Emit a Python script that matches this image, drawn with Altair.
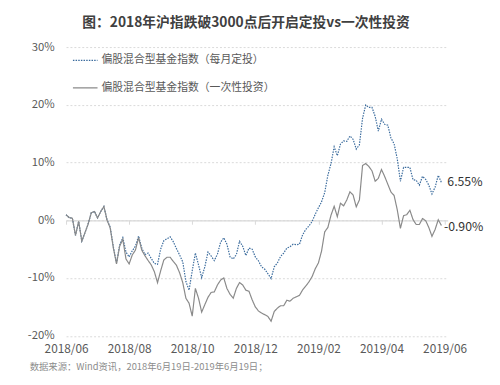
import altair as alt
import pandas as pd

title_text = "图：2018年沪指跌破3000点后开启定投vs一次性投资"
source_text = "数据来源：Wind资讯，2018年6月19日-2019年6月19日；"
series_names = ["偏股混合型基金指数（每月定投）", "偏股混合型基金指数（一次性投资）"]
tick_labels = ["2018/06", "2018/08", "2018/10", "2018/12", "2019/02", "2019/04", "2019/06"]
tick_days = [0, 40, 80, 120, 160, 200, 240]
y_ticks = [-20, -10, 0, 10, 20, 30]

# cumulative return (%), one value every 2 trading days from 2018-06-19
monthly = [
    0.97, 0.46, 0.37, -2.6, -0.2, -3.6, -2.15, -0.65, 1.3, 1.53,
    0.41, 1.53, 2.39, 0.1, -1.2, -4.6, -7.4, -4.3, -3.0, -5.5,
    -6.35, -5.28, -4.48, -2.73, -4.82, -5.93, -5.67, -6.6, -7.46, -7.63,
    -4.99, -3.54, -3.2, -2.86, -3.71, -4.9, -6.0, -7.2, -10.6, -12.1,
    -8.74, -5.67, -7.72, -9.93, -8.06, -5.5, -6.18, -6.98, -5.84, -3.8,
    -3.03, -4.14, -6.35, -6.7, -5.93, -3.63, -4.48, -6.1, -4.82, -5.0,
    -6.35, -7.04, -8.06, -8.48, -9.25, -10.1, -8.06, -7.38, -6.27, -5.67,
    -4.82, -4.57, -4.14, -4.22, -4.14, -2.52, -1.58, -0.99, -0.22, 1.06,
    2.16, 3.19, 4.8, 7.79, 9.83, 12.73, 11.19, 13.19, 13.75, 13.66,
    14.6, 14.04, 12.33, 13.07, 17.67, 19.97, 19.54, 19.54, 18.0, 15.45,
    17.5, 16.64, 16.47, 14.26, 13.24, 10.63, 6.76, 9.15, 9.15, 9.15,
    7.02, 6.93, 6.08, 7.61, 7.1, 6.08, 4.55, 5.74, 7.78, 6.55,
]
lump_sum = [
    0.97, 0.46, 0.37, -2.6, -0.2, -3.6, -2.15, -0.65, 1.3, 1.53,
    0.41, 1.53, 2.39, 0.03, -1.33, -4.8, -7.55, -4.48, -3.29, -6.7,
    -7.55, -6.0, -5.16, -3.0, -5.16, -6.13, -6.95, -7.72, -8.9, -10.8,
    -8.74, -6.87, -6.4, -6.4, -7.12, -7.8, -9.08, -10.8, -13.5, -14.36,
    -16.6, -11.8, -13.5, -15.9, -14.6, -13.34, -12.49, -12.4, -11.2, -10.36,
    -9.98, -11.8, -12.83, -13.5, -11.8, -10.78, -11.2, -12.1, -12.3, -13.76,
    -15.0, -15.7, -16.06, -16.35, -16.66, -17.48, -15.8, -15.2, -14.8, -14.8,
    -13.85, -14.0, -13.5, -13.25, -13.0, -12.06, -11.38, -10.66, -9.76, -8.4,
    -7.38, -5.33, -2.0, -1.24, 0.89, 2.42, 0.63, 2.96, 2.5, 3.53,
    4.94, 4.38, 2.33, 3.53, 9.49, 9.83, 9.32, 8.55, 6.76, 7.27,
    8.8, 7.6, 6.25, 4.9, 4.3, 1.82, -1.4, 0.8, 0.97, 1.74,
    0.12, -0.73, -0.73, 0.29, -0.05, -1.24, -2.78, -1.58, 0.1, -0.90,
]

days = [2 * i for i in range(len(monthly))]
rows = []
for name, vals in zip(series_names, [monthly, lump_sum]):
    for d, v in zip(days, vals):
        rows.append({"day": d, "value": v, "series": name})
df = pd.DataFrame(rows)
last_df = df.groupby("series").tail(1).copy()
last_df["label"] = last_df["value"].map(lambda v: f"{v:.2f}%")
src_df = pd.DataFrame({"text": [source_text]})

FONT = "Noto Sans CJK SC"
W, H = 388, 293.5

x_scale = alt.Scale(domain=[0, 242], nice=False, zero=False)
y_scale = alt.Scale(domain=[-20, 30], nice=False, zero=False)
labels_js = "[" + ",".join(f"'{s}'" for s in tick_labels) + "]"
days_js = "[" + ",".join(str(d) for d in tick_days) + "]"

color_scale = alt.Scale(domain=series_names, range=["#3a6b9d", "#8a8a8a"])
dash_scale = alt.Scale(domain=series_names, range=[[1.5, 1.2], [1, 0]])

legend = alt.Legend(
    title=None, orient="none", legendX=6, legendY=0, symbolType="stroke",
    symbolSize=625, symbolStrokeWidth=1.2, labelFont=FONT, labelFontSize=11,
    labelColor="#595959", labelOffset=3, rowPadding=9, padding=0, labelLimit=300,
)

y_axis = alt.Axis(
    values=y_ticks, labelExpr="datum.value + '%'", grid=True, gridDash=[2, 2],
    gridColor="#d9d9d9", domain=False, ticks=False, title=None, labelFont=FONT,
    labelFontSize=11.5, labelColor="#595959", labelPadding=12)

lines = alt.Chart(df).mark_line(strokeWidth=1.2).encode(
    x=alt.X("day:Q", scale=x_scale, axis=alt.Axis(
        values=tick_days, labelExpr=f"{labels_js}[indexof({days_js}, datum.value)]",
        domain=False, ticks=False, grid=False, title=None, labelFont=FONT,
        labelFontSize=12, labelColor="#595959", labelPadding=8, labelOverlap=False,
        labelFlush=False)),
    y=alt.Y("value:Q", scale=y_scale, axis=y_axis),
    color=alt.Color("series:N", scale=color_scale, legend=legend),
    strokeDash=alt.StrokeDash("series:N", scale=dash_scale, legend=legend),
    order=alt.Order("day:Q"),
)

zero_axis = alt.Axis(values=tick_days, orient="bottom", offset=-117.4, labels=False,
                     domain=True, domainColor="#d9d9d9", domainWidth=1.2,
                     ticks=True, tickColor="#d9d9d9", tickSize=4, grid=False, title=None)

end_blue = alt.Chart(last_df).transform_filter(
    alt.datum.series == series_names[0]
).mark_text(align="left", baseline="middle", dx=6, font=FONT, fontSize=12.5, color="#333333").encode(
    x=alt.X("day:Q", scale=x_scale, axis=zero_axis),
    y=alt.Y("value:Q", scale=y_scale, axis=y_axis),
    text="label:N",
)
end_grey = alt.Chart(last_df).transform_filter(
    alt.datum.series == series_names[1]
).mark_text(align="left", baseline="middle", dx=2.5, dy=1.5, font=FONT, fontSize=12.5, color="#333333").encode(
    x=alt.X("day:Q", scale=x_scale, axis=None),
    y=alt.Y("value:Q", scale=y_scale, axis=y_axis),
    text="label:N",
)

source = alt.Chart(src_df).mark_text(
    align="left", baseline="middle", font=FONT, fontSize=9.5, color="#8c8c8c"
).encode(x=alt.value(-37), y=alt.value(325.5), text="text:N")

chart = alt.layer(lines, end_blue, end_grey, source).resolve_axis(x="independent").properties(
    width=W, height=H,
    title=alt.TitleParams(text=title_text, anchor="middle", frame="group", font=FONT,
                          fontSize=14, fontWeight="bold", color="#404040", offset=11, dx=-11),
    autosize=alt.AutoSizeParams(type="none"),
    padding={"left": 59, "top": 36.6, "right": 45, "bottom": 46},
    background="white",
).configure_view(stroke=None)

chart.save("out.html", embed_options={"renderer": "svg", "actions": False})
